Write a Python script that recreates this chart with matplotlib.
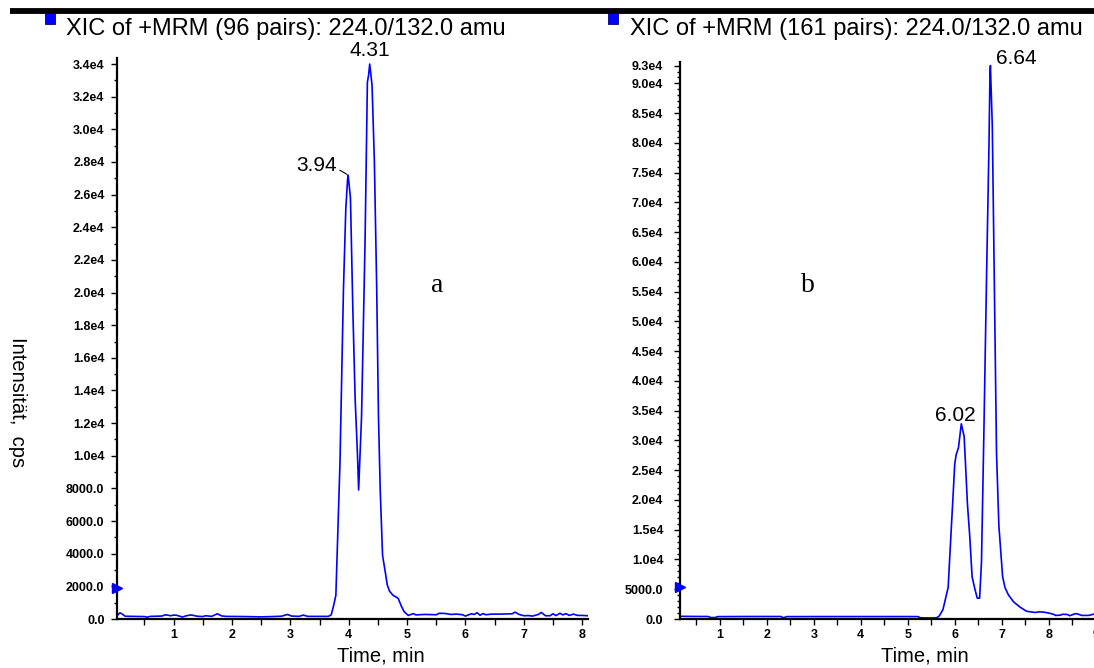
import matplotlib
matplotlib.use("Agg")
import matplotlib.pyplot as plt
from matplotlib.ticker import FixedLocator, MultipleLocator, FuncFormatter
from matplotlib.patches import Rectangle
from matplotlib.lines import Line2D

# ---------------- data ----------------
time_a = [0.03, 0.08, 0.12, 0.17, 0.30, 0.50, 0.55, 0.60, 0.80, 0.86, 0.95, 1.00, 1.05,
          1.15, 1.22, 1.30, 1.40, 1.50, 1.55, 1.65, 1.75, 1.82, 1.90, 2.20, 2.50, 2.70,
          2.85, 2.95, 3.02, 3.15, 3.22, 3.30, 3.65, 3.70, 3.74, 3.78, 3.85, 3.91, 3.95,
          3.98, 3.99, 4.03, 4.07, 4.11, 4.15, 4.17, 4.22, 4.28, 4.32, 4.34, 4.36, 4.40,
          4.44, 4.48, 4.51, 4.54, 4.58, 4.63, 4.66, 4.70, 4.76, 4.81, 4.85, 4.90, 4.95,
          5.02, 5.07, 5.11, 5.15, 5.30, 5.50, 5.55, 5.65, 5.75, 5.85, 5.95, 6.00, 6.05,
          6.10, 6.15, 6.20, 6.25, 6.30, 6.35, 6.45, 6.60, 6.80, 6.85, 6.92, 7.00, 7.08,
          7.15, 7.25, 7.30, 7.37, 7.45, 7.50, 7.55, 7.62, 7.67, 7.72, 7.78, 7.85, 7.92,
          8.00, 8.10]
intensity_a = [200, 380, 300, 170, 160, 150, 110, 160, 180, 260, 200, 240, 230,
               120, 200, 250, 170, 150, 200, 160, 320, 190, 160, 150, 130, 150,
               170, 280, 180, 160, 240, 160, 160, 250, 800, 1450, 9500, 20200, 25100,
               26900, 27200, 25800, 19100, 13500, 10100, 7900, 12400, 23100, 32900, 33300, 34000, 32700,
               28000, 20200, 12400, 7900, 3900, 2800, 2100, 1700, 1450, 1350, 1250, 800, 450,
               220, 280, 330, 250, 280, 260, 350, 340, 280, 300, 260, 180, 250,
               320, 280, 380, 230, 330, 260, 300, 300, 320, 420, 280, 200, 210,
               180, 280, 400, 200, 200, 320, 210, 350, 250, 330, 220, 300, 220,
               220, 200]

time_b = [0.15, 0.50, 0.75, 0.80, 0.90, 0.95, 1.50, 2.00, 2.30, 2.35, 2.42, 3.00, 4.00,
          5.00, 5.22, 5.27, 5.50, 5.61, 5.67, 5.75, 5.86, 5.93, 5.96, 6.00, 6.03, 6.08,
          6.14, 6.20, 6.23, 6.27, 6.32, 6.37, 6.43, 6.48, 6.53, 6.57, 6.62, 6.68, 6.73,
          6.75, 6.76, 6.80, 6.84, 6.89, 6.94, 7.02, 7.07, 7.14, 7.25, 7.39, 7.53, 7.71,
          7.80, 7.90, 8.00, 8.10, 8.15, 8.25, 8.30, 8.40, 8.45, 8.55, 8.60, 8.70, 8.85,
          8.95, 9.20]
intensity_b = [450, 430, 420, 250, 250, 400, 420, 420, 420, 200, 400, 410, 410,
               410, 400, 200, 180, 200, 500, 1600, 5300, 15700, 20000, 26000, 27600, 28800,
               32800, 30700, 26000, 19400, 13900, 7100, 5000, 3500, 3500, 9600, 31000, 58500, 79900,
               91500, 93000, 82900, 58500, 27900, 15700, 7100, 5300, 4100, 2900, 2000, 1300, 1100,
               1200, 1150, 1000, 800, 600, 650, 800, 750, 550, 850, 900, 600, 600,
               800, 850]

title_a = "XIC of +MRM (96 pairs): 224.0/132.0 amu"
title_b = "XIC of +MRM (161 pairs): 224.0/132.0 amu"
# (apex time as drawn, apex intensity, label)
peaks_a = [(3.99, 27200, "3.94"), (4.36, 34000, "4.31")]
peaks_b = [(6.14, 32800, "6.02"), (6.76, 93000, "6.64")]
yticks_a = [0, 2000, 4000, 6000, 8000, 10000, 12000, 14000, 16000, 18000, 20000,
            22000, 24000, 26000, 28000, 30000, 32000, 34000]
yticks_b = [0, 5000, 10000, 15000, 20000, 25000, 30000, 35000, 40000, 45000, 50000,
            55000, 60000, 65000, 70000, 75000, 80000, 85000, 90000, 93000]
xticks_a = [1, 2, 3, 4, 5, 6, 7, 8]
xticks_b = [1, 2, 3, 4, 5, 6, 7, 8, 9]
xlabel = "Time, min"
ylabel = "Intensität,  cps"
threshold_a = 1900
threshold_b = 5400

# ---------------- figure ----------------
W, H = 1094, 668
fig = plt.figure(figsize=(W / 100, H / 100), dpi=100)
fig.patch.set_facecolor("white")
SANS = ["Liberation Sans", "DejaVu Sans"]
SERIF = ["Liberation Serif", "DejaVu Serif"]
BLUE = "#0000ff"


def px_axes(l, r, top, bottom):
    return fig.add_axes([l / W, 1 - bottom / H, (r - l) / W, (bottom - top) / H])


def fmt(v, pos=None):
    if v < 10000:
        return "%.1f" % v
    s = "%.1e" % v
    m, e = s.split("e")
    return "%se%d" % (m, int(e))


def style(ax, xlim, ylim, xticks, yticks, yminor, ypad):
    ax.set_xlim(*xlim)
    ax.set_ylim(*ylim)
    for s in ("top", "right"):
        ax.spines[s].set_visible(False)
    for s in ("left", "bottom"):
        ax.spines[s].set_linewidth(1.6)
        ax.spines[s].set_color("black")
    ax.xaxis.set_major_locator(FixedLocator(xticks))
    ax.xaxis.set_minor_locator(MultipleLocator(0.5))
    ax.yaxis.set_major_locator(FixedLocator(yticks))
    ax.yaxis.set_minor_locator(MultipleLocator(yminor))
    ax.yaxis.set_major_formatter(FuncFormatter(fmt))
    ax.tick_params(axis="both", which="both", direction="out", width=1.0, color="black")
    ax.tick_params(axis="x", which="major", length=4, pad=3)
    ax.tick_params(axis="x", which="minor", length=4)
    ax.tick_params(axis="y", which="major", length=4, pad=ypad)
    ax.tick_params(axis="y", which="minor", length=2.5)
    for lab in ax.get_xticklabels() + ax.get_yticklabels():
        lab.set_fontfamily(SANS)
        lab.set_fontsize(9)
        lab.set_fontweight("bold")


# left panel
ax1 = px_axes(117, 588, 58, 619)
ax1.plot(time_a, intensity_a, color=BLUE, lw=1.2)
style(ax1, (0.03, 8.10), (0, 34370), xticks_a, yticks_a, 1000, 5)
ax1.plot([0.03], [threshold_a], marker=">", color=BLUE, markersize=7,
         clip_on=False, zorder=5)

# right panel
ax2 = px_axes(680, 1105, 62, 619)
ax2.plot(time_b, intensity_b, color=BLUE, lw=1.2)
style(ax2, (0.15, 9.20), (0, 93600), xticks_b, yticks_b, 1000, 8)
ax2.plot([0.15], [threshold_b], marker=">", color=BLUE, markersize=7,
         clip_on=False, zorder=5)

# peak labels
pk_font = dict(fontfamily=SANS, fontsize=15, color="black")
t, v, s = peaks_a[1]
ax1.annotate(s, (t, v), xytext=(0, 3), textcoords="offset points",
             ha="center", va="bottom", **pk_font)
t, v, s = peaks_a[0]
ax1.annotate(s, (t, v), xytext=(-8, 3), textcoords="offset points",
             ha="right", va="baseline", **pk_font)
ax1.annotate("", (t, v), xytext=(-6, 3.5), textcoords="offset points",
             arrowprops=dict(arrowstyle="-", color="black", lw=0.8,
                             shrinkA=0, shrinkB=1))
t, v, s = peaks_b[1]
ax2.annotate(s, (t, v), xytext=(4, 1), textcoords="offset points",
             ha="left", va="baseline", **pk_font)
t, v, s = peaks_b[0]
ax2.annotate(s, (t, v), xytext=(-4, 2), textcoords="offset points",
             ha="center", va="baseline", **pk_font)

# panel letters
fig.text(437 / W, 1 - 285 / H, "a", fontfamily=SERIF, fontsize=20, ha="center", va="center")
fig.text(808 / W, 1 - 285 / H, "b", fontfamily=SERIF, fontsize=20, ha="center", va="center")

# titles with blue squares
for x_sq, x_tx, title in ((45, 66, title_a), (608, 630, title_b)):
    fig.patches.append(Rectangle((x_sq / W, 1 - 24 / H), 10 / W, 11 / H,
                                 transform=fig.transFigure, facecolor=BLUE,
                                 edgecolor="#000080", lw=0.6))
    fig.text(x_tx / W, 1 - 35 / H, title, fontfamily=SANS, fontsize=17,
             ha="left", va="baseline")

# top black bar
fig.add_artist(Line2D([10 / W, 1.0], [1 - 11 / H, 1 - 11 / H],
                      transform=fig.transFigure, color="black", lw=4.2,
                      solid_capstyle="butt"))

# axis labels
fig.text(381 / W, 1 - 661 / H, xlabel, fontfamily=SANS, fontsize=14.5,
         ha="center", va="baseline")
fig.text(925 / W, 1 - 661 / H, xlabel, fontfamily=SANS, fontsize=14.5,
         ha="center", va="baseline")
fig.text(17 / W, 1 - 402 / H, ylabel, fontfamily=SANS, fontsize=14.5,
         rotation=270, ha="center", va="center")

fig.savefig("out.png", dpi=100, facecolor="white")
